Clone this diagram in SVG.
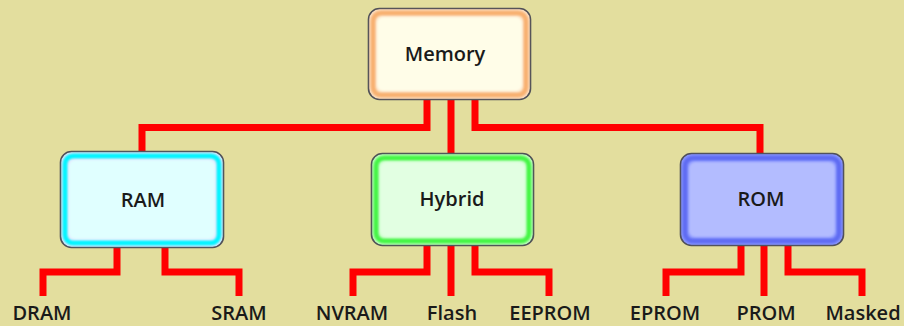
<svg xmlns="http://www.w3.org/2000/svg" width="904" height="326" viewBox="0 0 904 326">
<defs>
<filter id="soft" x="-10%" y="-10%" width="120%" height="120%"><feGaussianBlur stdDeviation="1.3"/></filter>
<style>
.wire{fill:none;stroke:#ff0000;stroke-width:7;stroke-linejoin:miter;stroke-linecap:butt}
.frame{stroke:#505058;stroke-width:1.6}
.band{fill:none;stroke-width:5;filter:url(#soft)}
.core{filter:url(#soft)}
.lbl{font-family:"Open Sans","Liberation Sans",Arial,sans-serif;font-weight:600;font-size:20px;fill:#1a1a1a;text-anchor:middle}
</style>
</defs>
<rect x="0" y="0" width="904" height="326" fill="#e3de9e"/>
<g id="connectors">
<polyline class="wire" points="427,95 427,127.5 142,127.5 142,156"/>
<polyline class="wire" points="451,95 451,158"/>
<polyline class="wire" points="475,95 475,127.5 760,127.5 760,158"/>
<polyline class="wire" points="117,240 117,272 43,272 43,296"/>
<polyline class="wire" points="165,240 165,272 239,272 239,296"/>
<polyline class="wire" points="427,240 427,272 353,272 353,296"/>
<polyline class="wire" points="451,240 451,296"/>
<polyline class="wire" points="475,240 475,272 549,272 549,296"/>
<polyline class="wire" points="741,240 741,272 666,272 666,296"/>
<polyline class="wire" points="764,240 764,296"/>
<polyline class="wire" points="788,240 788,272 862,272 862,296"/>
</g>
<g id="memory">
<rect class="frame" x="368.5" y="8.5" width="162" height="91" rx="11" fill="#fde3c8"/>
<rect class="band" x="373" y="13" width="153" height="82" rx="8" stroke="#f8b070"/>
<rect class="core" x="377" y="17" width="145" height="74" rx="6" fill="#fffde8"/>
<text class="lbl" x="445" y="61">Memory</text>
</g>
<g id="ram">
<rect class="frame" x="60.5" y="151.5" width="163" height="96" rx="11" fill="#e4e8ff"/>
<rect class="band" x="65" y="156" width="154" height="87" rx="8" stroke="#00f4ff"/>
<rect class="core" x="69" y="160" width="146" height="79" rx="6" fill="#e0ffff"/>
<text class="lbl" x="143" y="207">RAM</text>
</g>
<g id="hybrid">
<rect class="frame" x="371.5" y="153.5" width="162" height="92" rx="11" fill="#c8ffc8"/>
<rect class="band" x="376" y="158" width="153" height="83" rx="8" stroke="#44f544"/>
<rect class="core" x="380" y="162" width="145" height="75" rx="6" fill="#e2ffe2"/>
<text class="lbl" x="452" y="206">Hybrid</text>
</g>
<g id="rom">
<rect class="frame" x="680.5" y="153.5" width="163" height="92" rx="11" fill="#8c98ff"/>
<rect class="band" x="685" y="158" width="154" height="83" rx="8" stroke="#5f6cf2"/>
<rect class="core" x="689" y="162" width="146" height="75" rx="6" fill="#b3bcff"/>
<text class="lbl" x="761" y="206">ROM</text>
</g>
<g id="leaves">
<text class="lbl" x="42" y="320">DRAM</text>
<text class="lbl" x="239" y="320">SRAM</text>
<text class="lbl" x="352" y="320">NVRAM</text>
<text class="lbl" x="452" y="320">Flash</text>
<text class="lbl" x="550" y="320">EEPROM</text>
<text class="lbl" x="665" y="320">EPROM</text>
<text class="lbl" x="766" y="320">PROM</text>
<text class="lbl" x="863" y="320">Masked</text>
</g>
</svg>
